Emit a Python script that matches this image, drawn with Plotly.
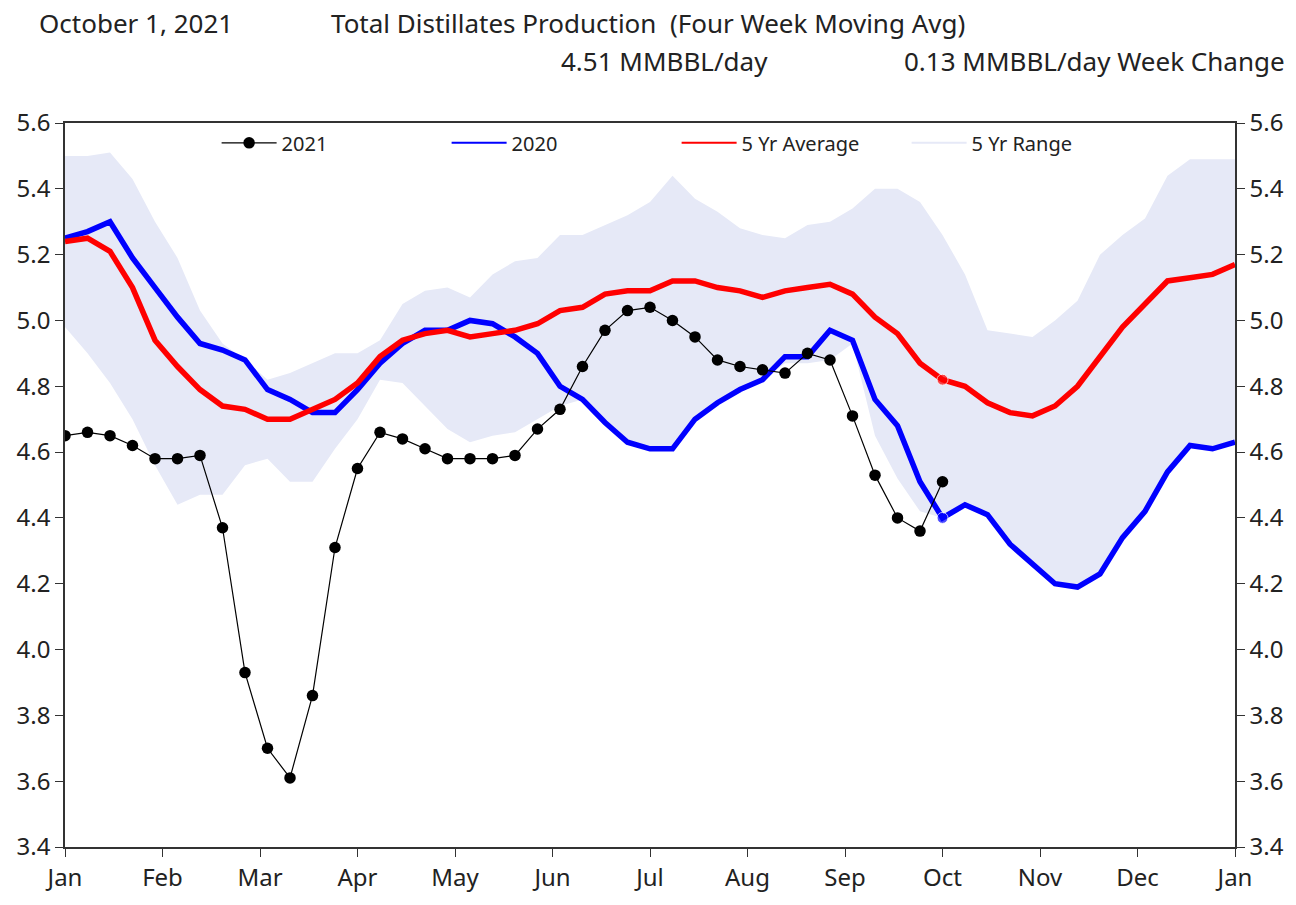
import plotly.graph_objects as go

# ---- data (weekly, week index 0..52) ----
weeks = list(range(53))
month_labels = ["Jan", "Feb", "Mar", "Apr", "May", "Jun", "Jul", "Aug", "Sep", "Oct", "Nov", "Dec", "Jan"]

y2021 = [4.65, 4.66, 4.65, 4.62, 4.58, 4.58, 4.59, 4.37, 3.93, 3.70,
         3.61, 3.86, 4.31, 4.55, 4.66, 4.64, 4.61, 4.58, 4.58, 4.58,
         4.59, 4.67, 4.73, 4.86, 4.97, 5.03, 5.04, 5.00, 4.95, 4.88,
         4.86, 4.85, 4.84, 4.90, 4.88, 4.71, 4.53, 4.40, 4.36, 4.51]

y2020 = [5.25, 5.27, 5.30, 5.19, 5.10, 5.01, 4.93, 4.91, 4.88, 4.79,
         4.76, 4.72, 4.72, 4.79, 4.87, 4.93, 4.97, 4.97, 5.00, 4.99,
         4.95, 4.90, 4.80, 4.76, 4.69, 4.63, 4.61, 4.61, 4.70, 4.75,
         4.79, 4.82, 4.89, 4.89, 4.97, 4.94, 4.76, 4.68, 4.51, 4.40,
         4.44, 4.41, 4.32, 4.26, 4.20, 4.19, 4.23, 4.34, 4.42, 4.54,
         4.62, 4.61, 4.63]

avg5 = [5.24, 5.25, 5.21, 5.10, 4.94, 4.86, 4.79, 4.74, 4.73, 4.70,
        4.70, 4.73, 4.76, 4.81, 4.89, 4.94, 4.96, 4.97, 4.95, 4.96,
        4.97, 4.99, 5.03, 5.04, 5.08, 5.09, 5.09, 5.12, 5.12, 5.10,
        5.09, 5.07, 5.09, 5.10, 5.11, 5.08, 5.01, 4.96, 4.87, 4.82,
        4.80, 4.75, 4.72, 4.71, 4.74, 4.80, 4.89, 4.98, 5.05, 5.12,
        5.13, 5.14, 5.17]

rng_hi = [5.50, 5.50, 5.51, 5.43, 5.30, 5.19, 5.03, 4.93, 4.88, 4.82,
          4.84, 4.87, 4.90, 4.90, 4.94, 5.05, 5.09, 5.10, 5.07, 5.14,
          5.18, 5.19, 5.26, 5.26, 5.29, 5.32, 5.36, 5.44, 5.37, 5.33,
          5.28, 5.26, 5.25, 5.29, 5.30, 5.34, 5.40, 5.40, 5.36, 5.26,
          5.14, 4.97, 4.96, 4.95, 5.00, 5.06, 5.20, 5.26, 5.31, 5.44,
          5.49, 5.49, 5.49]

rng_lo = [4.98, 4.90, 4.81, 4.70, 4.56, 4.44, 4.47, 4.47, 4.56, 4.58,
          4.51, 4.51, 4.61, 4.70, 4.82, 4.81, 4.74, 4.67, 4.63, 4.65,
          4.66, 4.70, 4.74, 4.76, 4.69, 4.63, 4.61, 4.61, 4.70, 4.75,
          4.79, 4.82, 4.87, 4.87, 4.88, 4.93, 4.65, 4.52, 4.42, 4.40,
          4.44, 4.41, 4.32, 4.26, 4.20, 4.19, 4.23, 4.34, 4.42, 4.54,
          4.62, 4.61, 4.63]

cur_week = len(y2021) - 1
header_date = "October 1, 2021"
header_title = "Total Distillates Production  (Four Week Moving Avg)"
header_value = "4.51 MMBBL/day"
header_change = "0.13 MMBBL/day Week Change"

# ---- styling ----
FONT = "Noto Sans"
BAND = "#E6E9F7"
TXT = "#222222"
AX = "#333333"

W, H = 1296, 905
ML, MR, MT, MB = 65, 58, 123, 52
pw, ph = W - ML - MR, H - MT - MB

def px_x(px):
    return (px - ML) / pw

def px_y(py):
    return (H - MB - py) / ph

fig = go.Figure()

# 5-year range band
fig.add_trace(go.Scatter(x=weeks, y=rng_lo, mode="lines", line=dict(width=0, color=BAND),
                         showlegend=False, hoverinfo="skip"))
fig.add_trace(go.Scatter(x=weeks, y=rng_hi, mode="lines", line=dict(width=0, color=BAND),
                         fill="tonexty", fillcolor=BAND, showlegend=False, hoverinfo="skip"))

marker_sizes = [11 if i == cur_week else 0 for i in weeks]

fig.add_trace(go.Scatter(x=weeks, y=y2020, mode="lines+markers", name="2020",
                         line=dict(color="#0000FF", width=5.5),
                         marker=dict(size=marker_sizes, color="#0000FF"),
                         showlegend=False))
fig.add_trace(go.Scatter(x=weeks, y=avg5, mode="lines+markers", name="5 Yr Average",
                         line=dict(color="#FF0000", width=5.5),
                         marker=dict(size=marker_sizes, color="#FF0000"),
                         showlegend=False))
fig.add_trace(go.Scatter(x=weeks[:len(y2021)], y=y2021, mode="lines+markers", name="2021",
                         line=dict(color="#000000", width=1.2),
                         marker=dict(size=11.5, color="#000000"),
                         showlegend=True))

# legend entries
fig.add_trace(go.Scatter(x=[None], y=[None], mode="lines", name="2020",
                         line=dict(color="#0000FF", width=2)))
fig.add_trace(go.Scatter(x=[None], y=[None], mode="lines", name="5 Yr Average",
                         line=dict(color="#FF0000", width=2)))
fig.add_trace(go.Scatter(x=[None], y=[None], mode="lines", name="5 Yr Range",
                         line=dict(color=BAND, width=2)))

# invisible trace for right axis
fig.add_trace(go.Scatter(x=[None], y=[None], yaxis="y2", showlegend=False, hoverinfo="skip"))

tickvals = [i * 52 / 12 for i in range(13)]
TICKFONT = dict(family=FONT, size=24, color=TXT)

fig.update_layout(
    width=W, height=H,
    margin=dict(l=ML, r=MR, t=MT, b=MB),
    paper_bgcolor="white", plot_bgcolor="white",
    font=dict(family=FONT, size=20, color=TXT),
    showlegend=True,
    legend=dict(orientation="h", x=px_x(217), y=px_y(143), xanchor="left", yanchor="middle",
                entrywidth=160, entrywidthmode="pixels", itemwidth=55,
                font=dict(family=FONT, size=20, color=TXT), bgcolor="rgba(0,0,0,0)",
                traceorder="normal"),
    xaxis=dict(range=[0, 52], tickvals=tickvals, ticktext=month_labels,
               showgrid=False, zeroline=False, showline=True, linecolor=AX, linewidth=1.5,
               mirror=True, ticks="outside", ticklen=8, tickcolor=AX,
               tickfont=TICKFONT),
    yaxis=dict(range=[3.4, 5.6], dtick=0.2, tick0=3.4, tickformat=".1f",
               showgrid=False, zeroline=False, showline=True, linecolor=AX, linewidth=1.5,
               ticks="outside", ticklen=8, tickcolor=AX,
               tickfont=TICKFONT),
    yaxis2=dict(range=[3.4, 5.6], dtick=0.2, tick0=3.4, tickformat=".1f", overlaying="y",
                side="right", showgrid=False, zeroline=False, showline=True, linecolor=AX,
                linewidth=1.5, ticks="outside", ticklen=8, tickcolor=AX,
                tickfont=TICKFONT),
)

ann_font = dict(family=FONT, size=26, color=TXT)
fig.add_annotation(text=header_date, xref="paper", yref="paper", x=px_x(37), y=px_y(22),
                   xanchor="left", yanchor="middle", showarrow=False, font=ann_font)
fig.add_annotation(text=header_title, xref="paper", yref="paper", x=px_x(330), y=px_y(22),
                   xanchor="left", yanchor="middle", showarrow=False, font=ann_font)
fig.add_annotation(text=header_value, xref="paper", yref="paper", x=px_x(560), y=px_y(60),
                   xanchor="left", yanchor="middle", showarrow=False, font=ann_font)
fig.add_annotation(text=header_change, xref="paper", yref="paper", x=px_x(1290), y=px_y(60),
                   xanchor="right", yanchor="middle", showarrow=False, font=ann_font)

fig.write_html("out.html", config={"displayModeBar": False},
               post_script="document.body.style.margin='0';")
